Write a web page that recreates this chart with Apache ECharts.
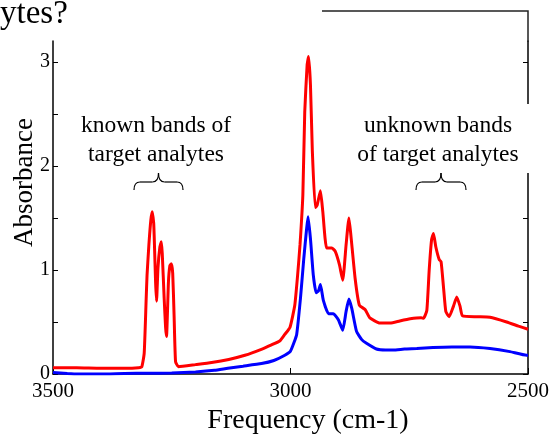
<!DOCTYPE html>
<html>
<head>
<meta charset="utf-8">
<title>Absorbance spectrum</title>
<script src="https://cdn.jsdelivr.net/npm/echarts@6/dist/echarts.min.js"></script>
<style>
  html, body { margin: 0; padding: 0; background: #fff; }
  #chart { width: 557px; height: 435px; }
</style>
</head>
<body>
<div id="chart"></div>
<script>
// Spectrum with analyte bands (red) and background sample (blue)
const redFreq = [3500, 3450, 3400, 3350, 3320, 3313, 3308, 3304, 3302, 3298, 3294, 3291, 3288, 3287, 3284, 3282,
  3279, 3275, 3272, 3270, 3266, 3263, 3261, 3257, 3254, 3251, 3248, 3245, 3242, 3236, 3200, 3166, 3130, 3096,
  3060, 3040, 3022, 3012, 3001, 2991, 2985, 2980, 2974, 2970, 2965, 2962, 2958, 2954, 2948, 2944, 2937, 2932,
  2924, 2913, 2906, 2897, 2890, 2883, 2877, 2873, 2864, 2855, 2843, 2833, 2812, 2790, 2770, 2748, 2725, 2720,
  2713, 2708, 2703, 2699, 2694, 2687, 2683, 2678, 2673, 2666, 2657, 2650, 2643, 2638, 2608, 2580, 2545, 2520, 2500];
const redAbs = [0.06, 0.06, 0.055, 0.055, 0.06, 0.07, 0.20, 0.70, 0.95, 1.25, 1.48, 1.56, 1.45, 1.33, 0.88, 0.70,
  1.02, 1.22, 1.27, 1.16, 0.73, 0.45, 0.36, 0.88, 1.04, 1.06, 0.97, 0.55, 0.12, 0.07, 0.09, 0.11, 0.14, 0.18,
  0.24, 0.28, 0.32, 0.38, 0.45, 0.66, 0.95, 1.24, 1.72, 2.52, 2.97, 3.05, 2.78, 2.14, 1.60, 1.62, 1.76, 1.56,
  1.21, 1.21, 1.18, 1.05, 0.90, 1.24, 1.50, 1.34, 0.92, 0.66, 0.62, 0.54, 0.49, 0.49, 0.51, 0.53, 0.54, 0.535,
  0.61, 1.00, 1.29, 1.35, 1.22, 1.10, 1.08, 0.84, 0.60, 0.55, 0.65, 0.74, 0.65, 0.56, 0.55, 0.545, 0.50, 0.46, 0.43];

const blueFreq = [3500, 3470, 3447, 3400, 3350, 3300, 3250, 3200, 3160, 3132, 3100, 3061, 3035, 3012, 3000, 2992,
  2987, 2979, 2972, 2966, 2963, 2958, 2952, 2946, 2941, 2937, 2931, 2920, 2910, 2899, 2890, 2883, 2877, 2871,
  2861, 2850, 2840, 2819, 2800, 2784, 2760, 2734, 2700, 2660, 2622, 2580, 2538, 2503, 2500];
const blueAbs = [0.015, 0.005, 0.0, 0.0, 0.005, 0.007, 0.01, 0.02, 0.035, 0.055, 0.075, 0.10, 0.13, 0.18, 0.22, 0.31,
  0.38, 0.73, 1.11, 1.40, 1.51, 1.30, 0.95, 0.78, 0.80, 0.86, 0.71, 0.58, 0.58, 0.52, 0.42, 0.60, 0.72, 0.63,
  0.41, 0.33, 0.295, 0.24, 0.23, 0.23, 0.24, 0.245, 0.255, 0.26, 0.26, 0.245, 0.215, 0.18, 0.18];

const yTicks = [0, 0.5, 1, 1.5, 2, 2.5, 3];
const yLabels = [0, 1, 2, 3];
const xTicks = [3500, 3000, 2500];

const serif = 'Liberation Serif';
const ink = '#000';

const chart = echarts.init(document.getElementById('chart'), null, { renderer: 'canvas' });

const pairs = (xs, ys) => xs.map((x, i) => [x, ys[i]]);

// Curly brace opening downward: ends at (a, yEnd) and (b, yEnd), point up at the middle
function brace(a, b, yh, yEnd, yTip) {
  const m = (a + b) / 2, r = 6;
  const st = { stroke: ink, lineWidth: 1.2, fill: null };
  const curve = (x1, y1, cx, cy, x2, y2) =>
    ({ type: 'bezierCurve', z: 30, shape: { x1, y1, cpx1: cx, cpy1: cy, x2, y2 }, style: st });
  const seg = (x1, x2) => ({ type: 'line', z: 30, shape: { x1, y1: yh, x2, y2: yh }, style: st });
  return [
    curve(a, yEnd, a, yh, a + r, yh),
    seg(a + r, m - r),
    curve(m - r, yh, m, yh, m, yTip),
    curve(m, yTip, m, yh, m + r, yh),
    seg(m + r, b - r),
    curve(b - r, yh, b, yh, b, yEnd)
  ];
}

chart.setOption({
  animation: false,
  backgroundColor: '#fff',
  grid: { left: 53, right: 29, top: 41, bottom: 61, outerBoundsMode: 'none' },
  xAxis: {
    type: 'value',
    inverse: true,
    min: 2500,
    max: 3500,
    interval: 500,
    name: 'Frequency (cm-1)',
    nameLocation: 'middle',
    nameGap: 33,
    nameTextStyle: { fontFamily: serif, fontSize: 28, color: ink, padding: [0, 0, 0, 35] },
    axisLine: { lineStyle: { color: ink, width: 1.5 } },
    axisTick: { inside: true, length: 6, lineStyle: { color: ink, width: 1 }, customValues: xTicks },
    axisLabel: {
      fontFamily: serif, fontSize: 21, color: ink, margin: 7,
      customValues: xTicks, formatter: v => String(v)
    },
    splitLine: { show: false }
  },
  yAxis: [{
    type: 'value',
    min: 0,
    max: 3.2,
    interval: 0.5,
    position: 'left',
    name: 'Absorbance',
    nameLocation: 'middle',
    nameMoveOverlap: false,
    nameGap: 15,
    nameTextStyle: { fontFamily: serif, fontSize: 27, color: ink, padding: [0, 0, 0, 50] },
    axisLine: { show: true, lineStyle: { color: ink, width: 1.5 } },
    axisTick: { show: true, inside: true, length: 5, lineStyle: { color: ink, width: 1 }, customValues: yTicks },
    axisLabel: {
      fontFamily: serif, fontSize: 20, color: ink, margin: 3,
      customValues: yLabels, formatter: v => String(v)
    },
    splitLine: { show: false }
  }, {
    type: 'value',
    min: 0,
    max: 3.2,
    interval: 0.5,
    position: 'right',
    axisLine: { show: true, lineStyle: { color: ink, width: 1.5 } },
    axisTick: { show: true, inside: true, length: 5, lineStyle: { color: ink, width: 1 }, customValues: yTicks },
    axisLabel: { show: false },
    splitLine: { show: false }
  }],
  series: [{
    type: 'line',
    data: pairs(blueFreq, blueAbs),
    showSymbol: false,
    smooth: 0.15,
    lineStyle: { color: '#0000ff', width: 3 },
    z: 3
  }, {
    type: 'line',
    data: pairs(redFreq, redAbs),
    showSymbol: false,
    smooth: 0.15,
    lineStyle: { color: '#ff0000', width: 3 },
    z: 4
  }],
  graphic: [
    // heading fragment at the top-left corner
    { type: 'text', z: 10,
      style: { text: 'ytes?', x: 0, y: -2, font: '33px "Liberation Serif"', fill: ink } },
    // frame running above the plot on the right
    { type: 'polyline', z: 10, shape: { points: [[322, 11], [528, 11], [528, 42]] },
      style: { stroke: '#222', lineWidth: 1.5, fill: null } },
    // white panel behind the right-hand label, breaking the right axis
    { type: 'rect', z: 20, shape: { x: 521, y: 104, width: 14, height: 69 },
      style: { fill: '#fff' } },
    { type: 'text', z: 30,
      style: { text: 'known bands of\ntarget analytes', x: 156, y: 111, align: 'center',
        font: '23.5px "Liberation Serif"', lineHeight: 29, fill: ink } },
    { type: 'text', z: 30,
      style: { text: 'unknown bands\nof target analytes', x: 438, y: 111, align: 'center',
        font: '23.5px "Liberation Serif"', lineHeight: 29, fill: ink } },
    ...brace(134, 183, 182, 190, 173),
    ...brace(416, 466, 182, 190, 173)
  ]
});
</script>
</body>
</html>
